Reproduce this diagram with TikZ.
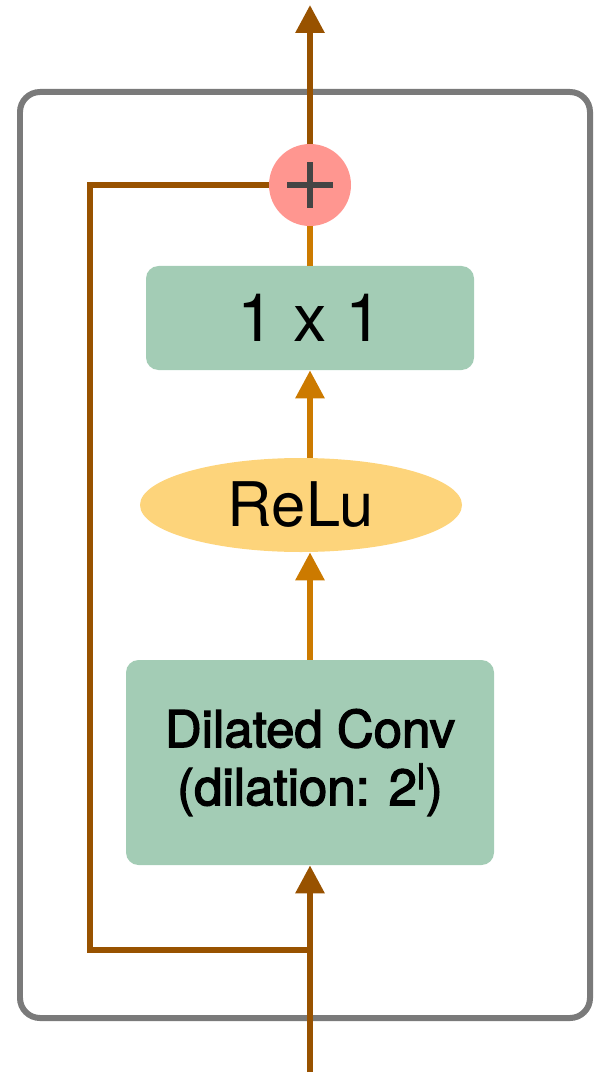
\documentclass[tikz,border=0pt]{standalone}
\usepackage{fontspec}
\setmainfont{TeX Gyre Heros}
\newfontfamily\medfont[FakeBold=2.5]{TeX Gyre Heros}
\usetikzlibrary{shapes.geometric, arrows.meta}

\definecolor{skipbrown}{HTML}{985200}
\definecolor{flow}{HTML}{CC7A00}
\definecolor{convgreen}{HTML}{A3CCB5}
\definecolor{relufill}{HTML}{FDD47B}
\definecolor{sumred}{HTML}{FF9690}
\definecolor{framegray}{HTML}{7A7A7A}
\definecolor{plusgray}{HTML}{444444}

\begin{document}
\begin{tikzpicture}

% --- Define reusable styles and key coordinates ---
\tikzset{
    block/.style={
        fill=convgreen, rounded corners=0.25cm, inner sep=0pt, align=center
    },
    wire/.style={line width=0.12cm},
    head/.style={-{Triangle[width=0.56cm, length=0.56cm]}}
}
% Vertical line of the main data path
\def\pathx{6.2}
\def\skipx{1.8}

\useasboundingbox (0,0) rectangle (12.3,-21.6);

% 1. Draw the residual block frame
\draw[framegray, line width=0.12cm, rounded corners=0.4cm] (0.4,-1.84) rectangle (11.8,-20.36);

% 2. Draw the layers from bottom to top
\node[block, minimum width=7.36cm, minimum height=4.1cm, font=\medfont\fontsize{29}{33}\selectfont] (conv) at (\pathx,-15.25)
    {Dilated Conv\\(dilation: 2\textsuperscript{l})};
\node[ellipse, fill=relufill, inner sep=0pt, minimum width=6.44cm, minimum height=1.88cm, font=\fontsize{35}{40}\selectfont] (relu) at (6.02,-10.1)
    {ReLu};
\node[block, minimum width=6.56cm, minimum height=2.08cm, font=\fontsize{38}{44}\selectfont] (onebyone) at (\pathx,-6.36)
    {1 x 1};
\node[circle, fill=sumred, inner sep=0pt, minimum size=1.64cm] (sum) at (\pathx,-3.7) {};

% 3. Draw the plus sign inside the sum node
\draw[plusgray, line width=0.12cm] ([xshift=-0.46cm]sum.center) -- ([xshift=0.46cm]sum.center);
\draw[plusgray, line width=0.12cm] ([yshift=-0.46cm]sum.center) -- ([yshift=0.46cm]sum.center);

% 4. Free ends and the skip corners
\coordinate (input) at (\pathx,-21.44);
\coordinate (output) at (\pathx,-0.1);
\coordinate (join) at (\pathx,-19);
\coordinate (corner) at (\skipx,-3.7);

% 5. Main path inside the block
\draw[wire, flow, head] (conv.north) -- (conv.north |- relu.south);
\draw[wire, flow, head] (conv.north |- relu.north) -- (onebyone.south);
\draw[wire, flow] (onebyone.north) -- (sum.south);

% 6. Input, skip connection and output
\draw[wire, skipbrown, head] (input) -- (conv.south);
\draw[wire, skipbrown] (join) -| (corner) -- (sum.west);
\draw[wire, skipbrown, head] (sum.north) -- (output);

\end{tikzpicture}
\end{document}
